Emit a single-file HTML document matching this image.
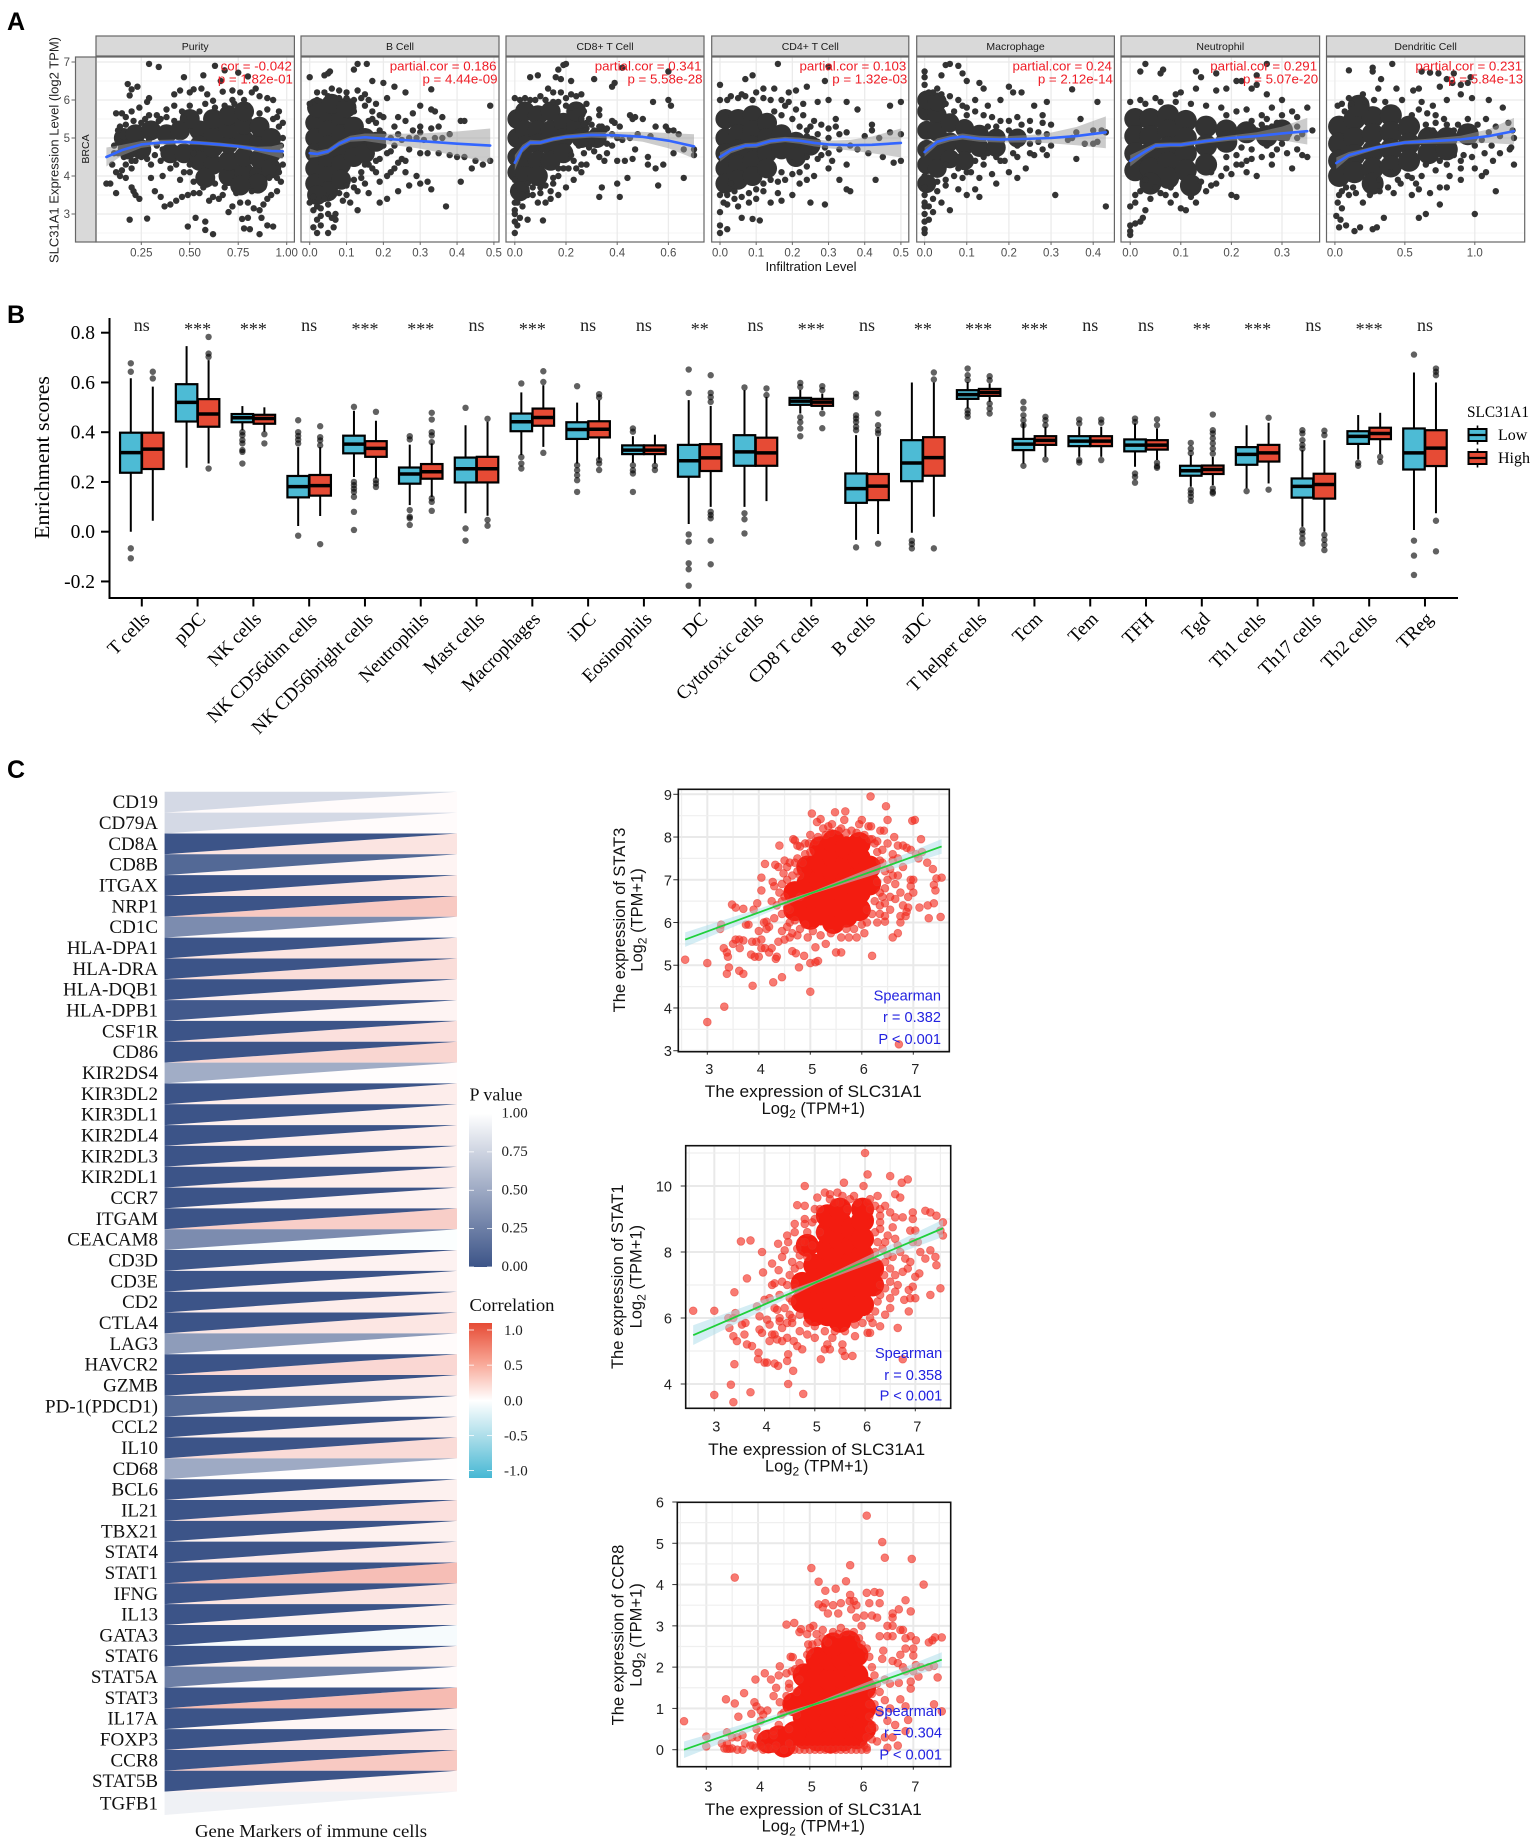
<!DOCTYPE html>
<html lang="en">
<head>
<meta charset="utf-8">
<title>SLC31A1 immune infiltration figure</title>
<style>
html,body{margin:0;padding:0;background:#fff;}
#figure{display:block;width:1535px;height:1843px;}
</style>
</head>
<body>
<svg id="figure" xmlns="http://www.w3.org/2000/svg" width="1535" height="1843" viewBox="0 0 1535 1843">
<defs>
<linearGradient id="p-grad" x1="0" y1="0" x2="0" y2="1"><stop offset="0" stop-color="#ffffff"/><stop offset="1" stop-color="#3C5488"/></linearGradient>
<linearGradient id="cor-grad" x1="0" y1="0" x2="0" y2="1"><stop offset="0" stop-color="#E64B35"/><stop offset="0.25" stop-color="#f8a493"/><stop offset="0.5" stop-color="#ffffff"/><stop offset="0.75" stop-color="#a5dbe8"/><stop offset="1" stop-color="#46b8d4"/></linearGradient>
</defs>
<rect width="1535" height="1843" fill="#fff"/>
<text x="7" y="30" font-family="Liberation Sans, sans-serif" font-weight="700" font-size="25">A</text>
<text x="7" y="323" font-family="Liberation Sans, sans-serif" font-weight="700" font-size="25">B</text>
<text x="7" y="778" font-family="Liberation Sans, sans-serif" font-weight="700" font-size="25">C</text>
<g id="panel-a"></g>
<g id="panel-b"></g>
<g id="panel-c-heat"></g>
<g id="panel-c-scatter"></g>
</svg>
<script>
// ---------- Panel A data ----------
const purityPts=[[.29,6.95],[.34,6.87],[.63,6.9],[.47,6.6],[.57,6.65],[.68,6.78],[.75,6.72],[.8,6.62],[.66,6.5],[.18,6.42],[.2,6.28],[.23,6.35],[.19,6.12],[.28,5.95],[.29,6.05],[.42,6.15],[.45,6.25],[.5,6.2],[.52,6.28],[.56,6.3],[.59,6.15],[.62,5.98],[.67,6.22],[.72,6.25],[.76,6.2],[.82,6.2],[.84,6.3],[.86,6.1],[.9,6.05],[.93,6],[.72,6],[.78,6],[.15,5.65],[.17,5.55],[.2,5.7],[.24,5.8],[.27,5.5],[.33,5.6],[.38,5.75],[.42,5.85],[.46,5.7],[.12,5.65],[.13,5.2],[.11,4.8],[.1,4.3],[.07,3.8],[.09,3.8],[.12,3.55],[.14,4],[.17,3.95],[.2,3.7],[.22,3.5],[.24,3.4],[.21,3.6],[.3,3.95],[.32,3.6],[.35,3.45],[.37,3.2],[.4,3.25],[.43,3.35],[.46,3.45],[.49,3.5],[.52,3.55],[.55,3.55],[.6,3.35],[.62,3.45],[.65,3.4],[.67,3.5],[.7,3.05],[.72,3.2],[.76,3.3],[.8,3.3],[.83,3.15],[.86,3.1],[.88,3.25],[.9,3.4],[.92,3.5],[.95,3.6],[.97,3.85],[.96,4.1],[.98,4.3],[.19,2.85],[.28,2.88],[.49,2.67],[.53,2.9],[.58,2.8],[.58,2.58],[.62,2.47],[.77,2.87],[.8,2.9],[.78,2.62],[.81,2.6],[.86,2.47],[.87,2.9],[.9,2.7],[.93,2.67],[.36,4],[.4,4.2],[.45,3.9],[.5,4.1],[.25,4.5],[.3,4.3],[.35,4.4],[.16,4.5],[.2,4.2],[.98,5],[.98,5.4],[.96,5.7],[.95,5.55]];
const purityFringe=[[.14,5.3],[.14,4.9],[.13,4.6],[.17,5.35],[.21,5.45],[.25,5.4],[.29,5.6],[.34,5.45],[.38,5.55],[.42,5.45],[.47,5.5],[.5,5.85],[.55,5.7],[.58,5.9],[.63,5.8],[.68,5.85],[.73,5.9],[.8,5.85],[.86,5.65],[.9,5.75],[.93,5.5],[.96,5.3],[.97,4.8],[.97,4.55],[.94,4.35],[.95,3.95],[.91,3.95],[.88,3.7],[.82,3.6],[.74,3.55],[.68,3.7],[.63,3.8],[.57,3.7],[.52,3.85],[.47,4.1],[.43,4.3],[.36,4.7],[.32,4.55],[.28,4.45],[.22,4.4],[.2,4.4],[.17,4.3],[.15,4.15],[.12,4.1],[.11,4.6],[.33,4.8],[.35,5.5],[.29,4.95],[.41,4.85],[.5,4.3],[.52,4.6]];
const purityCore=[[.16,5],[.22,5.1],[.3,5.2],[.38,5.1],[.45,5.2],[.25,4.7],[.18,4.7],[.4,4.6],[.47,4.6],[.55,5.2],[.55,4.8],[.55,4.4],[.62,4.3],[.62,4.75],[.62,5.15],[.62,5.5],[.7,4],[.7,4.4],[.7,4.85],[.7,5.25],[.7,5.6],[.78,4.1],[.78,4.5],[.78,4.95],[.78,5.35],[.78,5.7],[.86,4.05],[.86,4.45],[.86,4.9],[.86,5.3],[.92,4.6],[.92,5],[.92,4.2],[.5,5.5],[.58,3.95],[.85,3.8],[.76,3.75]];
const purityFit=[[.07,4.5,.25],[.15,4.68,.14],[.25,4.83,.09],[.35,4.88,.07],[.45,4.9,.06],[.55,4.87,.05],[.65,4.83,.05],[.75,4.78,.05],[.85,4.7,.07],[.92,4.66,.12],[.98,4.65,.2]];
const bCellPts=[[0,6.6],[.04,6.65],[.05,6.7],[.055,6.75],[.13,6.95],[.155,6.95],[.12,6.8],[.17,6.5],[.2,6.45],[.23,6.35],[.33,6.28],[.26,6.2],[.21,6.05],[.16,6],[.3,5.85],[.28,5.65],[.33,5.75],[.34,5.7],[.36,5.55],[.41,5.45],[.42,5.45],[.49,5.85],[.3,5.3],[.33,5.25],[.35,5.3],[.38,5.1],[.24,5.1],[.27,5],[.29,5],[.31,4.95],[.34,5],[.36,5],[.19,5.2],[.2,4.8],[.22,4.65],[.25,4.45],[.3,4.6],[.32,4.6],[.35,4.6],[.38,4.55],[.4,4.5],[.42,4.5],[.45,4.4],[.47,4.3],[.49,4.4],[.44,4.2],[.41,3.85],[.22,4.1],[.24,4.35],[.26,4.1],[.29,4],[.3,3.8],[.32,3.85],[.33,3.65],[.27,3.75],[.24,3.6],[.21,3.4],[.19,3.3],[.16,3.55],[.15,3.8],[.37,3.2],[.13,3.1],[.07,3],[.05,3],[.02,2.85],[.01,2.65],[.03,2.7],[.02,2.5],[.05,2.5],[.065,2.65],[.07,2.85],[.06,2.9],[.03,2.95],[.02,3.2],[0,3.3],[.01,3.1],[.05,3.25],[.1,3.5],[.12,3.9],[.14,4.1],[.16,4.3],[.18,4.4],[.15,5.85],[.12,5.7],[.1,6.2],[.08,6.25],[.06,6.3],[.04,6.2],[.02,6],[0,5.9],[.13,6.25],[.15,6.15],[.17,5.5],[.18,5.4],[.23,5.3]];
const bCellFringe=[[.17,5.7],[.19,5.6],[.16,5.45],[.2,5.1],[.22,5],[.21,4.6],[.19,4.45],[.17,4.2],[.15,4.3],[.14,3.95],[.12,3.7],[.1,3.75],[.08,3.55],[.06,3.45],[.04,3.4],[.01,3.45],[.03,3.15],[.09,3.35],[.11,3.3],[.13,3.6],[.02,6.2],[.05,6.1],[.08,6.05],[.1,6.05],[.12,6],[.14,6.05],[.18,5.9],[.2,5.55],[.25,4.95],[.27,4.7],[.26,4.4],[.23,4.2],[.21,4],[.18,4.1],[.19,3.85],[.24,5.55],[.26,5.45],[.28,5.2],[.3,5.15],[.23,4.8]];
const bCellCore=[[.015,5.4],[.015,5],[.015,4.6],[.015,4.2],[.015,3.8],[.05,5.6],[.05,5.2],[.05,4.8],[.05,4.4],[.05,4],[.05,3.6],[.085,5.5],[.085,5.1],[.085,4.7],[.085,4.3],[.085,3.9],[.12,5.3],[.12,4.9],[.12,4.5],[.15,5],[.15,4.6],[.02,5.8],[.06,5.9],[.1,5.8],[.18,4.9],[.02,3.5]];
const bCellFit=[[0,4.6,.12],[.02,4.58,.08],[.05,4.65,.07],[.08,4.85,.07],[.11,4.98,.08],[.15,5.02,.1],[.2,4.98,.13],[.3,4.92,.2],[.4,4.85,.32],[.49,4.8,.45]];
const cd8Pts=[[.19,6.92],[.2,6.95],[.17,6.8],[.09,6.65],[.06,6.6],[.18,6.55],[.16,6.6],[.22,6.5],[.31,6.55],[.38,6.35],[.39,6.45],[.42,6.85],[.6,6.75],[0,6.05],[.02,6],[.1,6.1],[.13,6.3],[.15,6.2],[.18,6.2],[.2,6.05],[.22,6.15],[.24,6.1],[.26,6.15],[.28,5.9],[.33,5.75],[.33,5.6],[.45,5.6],[.46,5.5],[.47,5.55],[.5,5.5],[.54,5.95],[.6,6],[.61,5.85],[.38,5.45],[.39,5.4],[.34,5.3],[.59,5.3],[.6,5.2],[.55,5.3],[.53,5.05],[.48,5.1],[.45,5],[.42,4.95],[.4,5],[.38,5.1],[.33,5.05],[.3,4.9],[.27,4.6],[.25,4.8],[.23,4.4],[.22,4.55],[.36,4.6],[.4,4.4],[.43,4.4],[.46,4.45],[.52,4.5],[.58,4.3],[.55,4.2],[.52,4.3],[.62,4.6],[.66,4.7],[.7,4.55],[.7,4.7],[.44,3.95],[.4,3.8],[.34,3.7],[.33,3.45],[.41,3.45],[.56,3.75],[.66,3.95],[.26,4.1],[.23,3.9],[.2,3.7],[.17,3.5],[.14,3.4],[.12,3.3],[.1,3.55],[.07,3.5],[.05,3.8],[.03,3.2],[0,3],[0,2.8],[0,2.5],[.01,2.7],[.05,2.85],[.11,2.83],[.02,2.9],[0,3.3],[0,3.6],[0,3.9],[.14,3.6],[.17,4],[.29,5.5],[.27,5.7],[.22,5.8],[.64,5.1],[.62,5.2]];
const cd8Fringe=[[.28,5.4],[.3,5.35],[.31,5.2],[.33,5.3],[.35,5.2],[.36,5.25],[.28,5.25],[.29,4.75],[.31,4.65],[.33,4.5],[.28,4.3],[.26,4.3],[.24,4.2],[.21,4.2],[.19,4.2],[.17,4.2],[.15,3.95],[.12,3.75],[.1,3.7],[.07,3.7],[.05,3.5],[.03,3.5],[.01,3.3],[0,3.1],[.09,3.3],[.15,3.8],[.06,6],[.08,6],[.04,6.05],[.12,6],[.15,5.95],[.17,5.95],[.2,5.85],[.24,5.85],[.27,5.35],[.26,5.5],[.41,5.3],[.36,4.85],[.38,4.8],[.35,4.4],[.47,4.7]];
const cd8Core=[[.01,5.5],[.01,5],[.01,4.5],[.01,4.1],[.04,5.7],[.04,5.2],[.04,4.8],[.04,4.4],[.04,4],[.09,5.6],[.09,5.2],[.09,4.85],[.09,4.4],[.09,4],[.14,5.7],[.14,5.2],[.14,4.8],[.14,4.4],[.19,5.4],[.19,5],[.19,4.6],[.24,5.3],[.24,5.7],[.26,5],[.32,5],[.02,3.6]];
const cd8Fit=[[0,4.35,.2],[.03,4.72,.1],[.06,4.88,.07],[.1,4.88,.06],[.15,4.97,.06],[.2,5.03,.06],[.3,5.08,.07],[.4,5.07,.09],[.5,5.03,.13],[.6,4.93,.2],[.7,4.78,.32]];
const cd4Pts=[[.16,6.95],[.3,6.88],[.29,6.5],[.24,6.35],[.21,6.25],[.19,6.2],[.15,6.3],[.12,6.3],[.1,6.2],[.07,6.1],[.05,6.05],[.02,6],[0,6],[.27,5.95],[.3,6],[.35,5.95],[.5,5.95],[.47,5.85],[.38,5.75],[.42,5.2],[.42,5.35],[.4,5.05],[.44,5],[.47,5.15],[.5,5.1],[.35,5.15],[.33,5.1],[.3,5],[.27,5.1],[.24,5.2],[.22,5.3],[.2,5.5],[.17,5.6],[.15,5.7],[.36,4.8],[.38,4.7],[.41,4.6],[.45,4.5],[.48,4.35],[.5,4.4],[.43,3.9],[.3,4.2],[.35,4.3],[.31,4.4],[.27,4.45],[.24,4.5],[.2,4.35],[.17,4.1],[.14,3.9],[.12,3.6],[.1,3.4],[.08,3.3],[.2,3.5],[.25,3.3],[.17,3.35],[.14,3.3],[.16,3.55],[.29,3.25],[.24,3.9],[.33,3.9],[.35,3.65],[.36,3.6],[.04,3.4],[.02,3.25],[0,3.05],[.06,2.9],[.09,2.87],[.11,2.83],[.02,2.6],[0,2.5],[0,2.7],[.05,3.2],[0,3.5],[.03,3.8],[.26,5.45],[.32,5.5],[.09,6.65],[.07,6.55],[0,6.4]];
const cd4Fringe=[[.21,5.75],[.18,5.85],[.23,5.6],[.25,5.3],[.28,5.35],[.3,5.25],[.32,5.3],[.26,4.65],[.28,4.55],[.3,4.6],[.33,4.7],[.24,4.25],[.22,4.1],[.2,4.05],[.18,3.9],[.16,3.85],[.12,3.8],[.1,3.65],[.08,3.55],[.06,3.45],[.04,3.6],[.02,3.5],[.01,3.3],[.03,6.1],[.06,6.15],[.09,6],[.12,6.05],[.14,6],[.17,6],[.19,5.95],[.23,5.9],[.24,5.05],[.27,4.9],[.29,4.75],[.22,3.8],[.26,4]];
const cd4Core=[[.015,5.5],[.015,5],[.015,4.6],[.015,4.2],[.015,3.8],[.05,5.5],[.05,5.1],[.05,4.7],[.05,4.3],[.05,3.9],[.09,5.6],[.09,5.2],[.09,4.8],[.09,4.4],[.09,4],[.13,5.4],[.13,5],[.13,4.6],[.13,4.2],[.17,5.1],[.17,4.7],[.21,4.9],[.21,4.5],[.25,4.8]];
const cd4Fit=[[0,4.5,.12],[.03,4.68,.08],[.07,4.8,.07],[.1,4.81,.07],[.14,4.92,.07],[.18,4.96,.07],[.22,4.93,.08],[.26,4.87,.09],[.3,4.83,.1],[.36,4.81,.14],[.42,4.82,.22],[.5,4.87,.38]];
const macrophagePts=[[.06,6.95],[.05,6.92],[.08,6.9],[.09,6.7],[.04,6.65],[0,6.75],[0,6.6],[0,6.4],[.02,6.2],[.04,6.15],[.1,6.5],[.13,6.45],[.14,6.3],[.2,6.35],[.21,6.2],[.23,6.2],[.35,6.28],[.41,5.95],[.29,5.95],[.26,5.85],[.18,6],[.15,5.85],[.12,6],[.09,5.85],[.05,5.9],[.28,5.6],[.28,5.4],[.37,5.5],[.3,5.35],[.25,5.45],[.22,5.55],[.2,5.2],[.17,5.3],[.36,5.15],[.4,5.2],[.42,5.2],[.43,5.15],[.41,4.9],[.38,4.85],[.4,4.85],[.35,5],[.34,4.95],[.3,4.8],[.27,4.9],[.25,4.85],[.22,4.8],[.36,4.45],[.29,4.55],[.26,4.55],[.21,4.6],[.18,4.4],[.14,4.3],[.22,3.95],[.2,4.1],[.17,3.8],[.13,3.95],[.12,3.65],[.1,3.5],[.08,3.65],[.05,3.9],[.03,3.6],[.06,3.1],[.02,3.05],[.13,3.45],[.31,3.5],[.43,3.2],[0,2.8],[0,2.6],[0,2.5],[0,3],[0,3.3],[0,3.7],[0,4],[.01,2.85],[.05,4.3],[.08,4.2],[.1,4.1],[.15,4.6],[.12,4.4]];
const macrophageFringe=[[.01,6.2],[.03,6.3],[.06,6.1],[.08,6],[.1,5.8],[.12,5.7],[.14,5.6],[.16,5.55],[.18,5.45],[.2,5.45],[.23,5.35],[.25,5.2],[.27,5.15],[.29,5.1],[.15,5.3],[.1,5.6],[.07,5.7],[.17,4.5],[.14,4.5],[.11,4.1],[.09,3.95],[.07,4],[.05,3.75],[.03,3.85],[.02,3.4],[.01,3.2],[.04,3.3],[.19,4.4],[.22,4.5],[.25,4.6],[.28,4.7],[.24,4.2],[.16,4.05],[0,3.5],[0,3.2]];
const macrophageCore=[[.005,5.7],[.005,5.2],[.005,4.7],[.005,4.3],[.03,5.6],[.03,5.15],[.03,4.65],[.03,4.2],[.06,5.4],[.06,4.9],[.06,4.45],[.095,5.25],[.095,4.8],[.095,4.4],[.13,5.1],[.13,4.75],[.17,5],[.17,4.75],[.22,5],[.005,6],[.005,3.8],[.03,5.95]];
const macrophageFit=[[0,4.63,.12],[.03,4.9,.09],[.06,4.99,.08],[.09,5.04,.08],[.13,4.98,.08],[.18,4.96,.08],[.25,4.98,.1],[.3,5,.14],[.36,5.05,.24],[.43,5.15,.42]];
const neutrophilPts=[[.03,6.95],[.02,6.75],[.065,6.8],[.06,6.7],[.13,6.75],[.14,6.6],[.17,6.7],[.21,6.5],[.22,6.5],[.25,6.65],[.27,6.95],[.25,6.4],[.24,6.3],[.19,6.3],[.17,6.25],[.13,6.3],[.1,6.2],[.09,6.15],[.05,6.05],[.02,6],[0,5.95],[.27,6.15],[.3,6],[.35,5.8],[.32,5.7],[.28,5.8],[.26,5.6],[.24,5.45],[.29,5.4],[.33,5.55],[.34,5.1],[.36,5.2],[.31,5],[.33,5],[.35,4.5],[.34,4.55],[.31,4.6],[.27,4.8],[.29,4.7],[.32,4.2],[.28,4.3],[.24,4.45],[.25,4],[.23,4.1],[.21,4.3],[.21,3.45],[.2,3.5],[.17,3.8],[.15,3.6],[.13,3.3],[.1,3.15],[.08,3.3],[.07,3.5],[.05,3.7],[.03,3.9],[.01,3.5],[0,3.2],[0,2.7],[.01,2.75],[.02,2.8],[.025,2.9],[0,2.55],[0,2.45],[.03,3.1],[.11,3.1],[.16,4.1],[.19,4.5],[.22,4.75]];
const neutrophilFringe=[[.19,5.6],[.21,5.7],[.23,5.75],[.18,5.8],[.15,5.85],[.12,5.9],[.09,5.95],[.06,5.95],[.03,5.9],[.26,5.35],[.28,5.3],[.31,5.35],[.33,5.3],[.24,4.7],[.21,4.55],[.22,4.3],[.19,4.2],[.2,4.05],[.18,4],[.16,3.75],[.14,3.85],[.12,3.45],[.09,3.5],[.08,3.7],[.06,3.55],[.02,3.6],[.04,3.4],[.01,3.3],[.28,4.55],[.3,4.85],[.33,4.7],[.26,4.5],[.23,4.4],[.3,5.6],[.27,5.5],[.25,5.2]];
const neutrophilCore=[[.01,5.5],[.01,5.05],[.01,4.6],[.01,4.15],[.04,5.5],[.04,5.05],[.04,4.6],[.04,4.2],[.075,5.6],[.075,5.2],[.075,4.75],[.075,4.35],[.075,3.95],[.11,5.45],[.11,5],[.11,4.6],[.11,4.15],[.15,5.3],[.15,4.8],[.15,4.3],[.19,5.2],[.19,4.9],[.23,5.15],[.27,5.05],[.3,5.2],[.12,3.75],[.04,3.8]];
const neutrophilFit=[[0,4.4,.15],[.03,4.65,.09],[.05,4.8,.07],[.08,4.82,.06],[.1,4.82,.06],[.15,4.92,.06],[.2,5,.07],[.25,5.05,.1],[.3,5.12,.18],[.35,5.18,.35]];
const dendriticPts=[[.1,6.78],[.27,6.75],[.27,6.85],[.41,6.95],[.33,6.55],[.62,6.75],[.68,6.72],[.74,6.7],[.85,6.7],[.8,6.55],[.84,6.45],[.95,6.45],[.97,6.6],[.9,6.4],[.75,6.35],[.6,6.3],[.56,6.25],[.44,6.3],[.31,6.3],[.2,6.15],[.1,6.05],[.05,5.9],[.02,5.85],[.8,6],[.9,6.15],[.98,6.05],[1.1,6],[1.2,5.8],[1.08,5.5],[1.24,5.4],[1.27,5.2],[1.28,5],[1.26,4.75],[1.28,4.3],[1.25,4.7],[1.13,4.4],[1.07,4.6],[1,4.2],[1.05,4],[1.08,4.1],[1,4.8],[.93,4.95],[.85,5.2],[.78,5.5],[.72,5.6],[.7,5.2],[.65,5.35],[.55,5.6],[1.15,3.6],[1,3],[.75,3.25],[.65,3],[.6,2.9],[.55,3.5],[.47,3.8],[.42,3.55],[.35,2.9],[.3,2.65],[.27,2.6],[.18,2.65],[.14,2.55],[.08,2.7],[.03,2.65],[.04,2.85],[.01,2.95],[.05,3.15],[.02,3.3],[.1,3.5],[.13,3.7],[.2,3.3],[.25,3.5],[.32,3.9],[.4,4.1],[.52,4],[.6,3.65],[.68,3.55],[.75,3.7],[.82,4],[.9,4.2],[.85,4.55],[.75,4.4],[.65,4.3]];
const dendriticFringe=[[.6,5.75],[.66,5.65],[.72,5.4],[.8,5.35],[.88,5.35],[.95,5.5],[1.02,5.35],[1.1,5.15],[1.15,5.3],[1.18,5.05],[1.05,4.95],[1.12,4.8],[1.18,4.6],[.98,4.5],[.92,4.55],[.9,4.4],[.8,4.3],[.72,4.15],[.62,4],[.55,3.95],[.45,3.9],[.38,3.7],[.32,3.6],[.22,3.75],[.15,3.55],[.08,3.7],[.05,3.6],[.03,3.5],[.48,6],[.36,5.95],[.28,6],[.22,5.95],[.12,5.9],[.07,5.7],[.62,5.95],[.7,5.85],[.58,3.8],[.8,3.7],[.9,3.9]];
const dendriticCore=[[.03,5.3],[.03,4.85],[.03,4.4],[.03,4],[.14,5.5],[.14,5],[.14,4.55],[.14,4.1],[.27,5.55],[.27,5.1],[.27,4.65],[.27,4.2],[.27,3.8],[.4,5.6],[.4,5.15],[.4,4.7],[.4,4.25],[.53,5.3],[.53,4.85],[.53,4.4],[.67,5],[.67,4.6],[.8,5],[.8,4.7],[.95,5.1],[.17,5.85]];
const dendriticFit=[[.01,4.34,.15],[.1,4.55,.08],[.2,4.65,.06],[.3,4.75,.05],[.4,4.82,.05],[.5,4.88,.05],[.7,4.92,.07],[.9,4.96,.1],[1.1,5.05,.18],[1.28,5.18,.35]];
const yTicksA=[3,4,5,6,7];
const xTicksPurity=[.25,.5,.75,1];
const xTicksB=[0,.1,.2,.3,.4,.5];
const xTicksCd8=[0,.2,.4,.6];
const xTicksMac=[0,.1,.2,.3,.4];
const xTicksNeu=[0,.1,.2,.3];
const xTicksDen=[0,.5,1];

// ---------- Panel B data: [q1, median, q3, whiskerLow, whiskerHigh] ----------
const cellTypes=["T cells","pDC","NK cells","NK CD56dim cells","NK CD56bright cells","Neutrophils","Mast cells","Macrophages","iDC","Eosinophils","DC","Cytotoxic cells","CD8 T cells","B cells","aDC","T helper cells","Tcm","Tem","TFH","Tgd","Th1 cells","Th17 cells","Th2 cells","TReg"];
const significance=["ns","***","***","ns","***","***","ns","***","ns","ns","**","ns","***","ns","**","***","***","ns","ns","**","***","ns","***","ns"];
const lowBoxes=[[.237,.318,.398,0,.617],[.443,.52,.593,.257,.746],[.44,.458,.473,.408,.505],[.138,.181,.224,.023,.34],[.315,.352,.386,.22,.486],[.193,.232,.258,.107,.35],[.198,.253,.298,.074,.428],[.404,.442,.475,.308,.56],[.373,.411,.44,.274,.519],[.312,.328,.347,.277,.384],[.221,.285,.349,.031,.529],[.265,.321,.388,.1,.569],[.51,.525,.538,.475,.57],[.116,.173,.234,-.033,.388],[.203,.276,.368,-.004,.6],[.534,.551,.569,.495,.602],[.328,.352,.373,.274,.435],[.344,.364,.384,.301,.422],[.323,.348,.371,.261,.435],[.225,.245,.265,.181,.308],[.269,.311,.34,.174,.428],[.137,.182,.214,.02,.328],[.353,.383,.404,.29,.469],[.25,.317,.415,.007,.64]];
const highBoxes=[[.252,.332,.398,.044,.583],[.422,.473,.533,.274,.69],[.434,.455,.47,.402,.5],[.145,.185,.228,.063,.34],[.301,.335,.364,.214,.446],[.213,.241,.272,.14,.355],[.198,.253,.301,.064,.442],[.426,.459,.495,.341,.589],[.379,.412,.444,.29,.529],[.312,.328,.347,.274,.39],[.244,.297,.352,.1,.506],[.265,.317,.378,.123,.542],[.506,.521,.534,.489,.555],[.127,.183,.232,-.009,.381],[.225,.298,.38,.06,.6],[.546,.56,.574,.522,.596],[.349,.367,.384,.301,.422],[.344,.364,.384,.301,.422],[.33,.348,.368,.288,.415],[.232,.25,.266,.187,.301],[.282,.317,.349,.194,.438],[.133,.19,.233,0,.368],[.372,.395,.418,.312,.478],[.264,.336,.408,.074,.6]];
const lowOutliers=[[.677,.643,-.067,-.107],[],[.4,.388,.368,.355,.328,.321,.274],[.448,.4,.385,.37,.355,-.016],[.502,.2,.187,.173,.16,.14,.08,.007],[.384,.371,.087,.06,.054,.027],[.498,.013,-.036],[.596,.3,.274,.254],[.585,.267,.247,.227,.207,.16],[.415,.402,.267,.247,.234,.16],[.652,.558,-.011,-.04,-.127,-.151,-.217],[.58,.074,.05,-.007],[.598,.582,.46,.44,.415,.384],[.555,.541,.468,.455,.441,.422,.408,-.063],[-.036,-.05,-.067],[.656,.629,.61,.488,.475,.462],[.522,.495,.468,.448,.428,.265],[.451,.435,.288,.278],[.455,.441,.234,.22,.197],[.357,.334,.316,.168,.155,.141,.124],[.163],[.408,.395,.368,.348,.334,.007,-.007,-.027,-.047],[.277,.265],[.712,-.036,-.096,-.174]];
const highOutliers=[[.643,.616],[.783,.716,.703,.254],[.392,.355],[.424,.38,.367,.347,-.05],[.482,.207,.194,.18],[.478,.451,.4,.387,.36,.134,.12,.084],[.454,.047,.024],[.645,.602,.317],[.553,.54,.288,.274,.248],[.265,.248],[.629,.558,.541,.522,.08,.067,.054,-.036,-.131],[.576,.549],[.585,.569,.475,.416],[.475,.428,.408,.395,-.048],[.64,.612,-.067],[.625,.609,.515,.495,.475],[.462,.448,.428,.29],[.451,.438,.288],[.452,.428,.277,.263,.257],[.471,.408,.395,.375,.355,.334,.314,.174,.16,.154],[.458,.169],[.406,.388,-.013,-.033,-.053,-.074],[.301,.281],[.656,.643,.629,.044,-.079]];
const yTicksB=[-.2,0,.2,.4,.6,.8];

// ---------- Panel C heatmap data ----------
const geneMarkers=["CD19","CD79A","CD8A","CD8B","ITGAX","NRP1","CD1C","HLA-DPA1","HLA-DRA","HLA-DQB1","HLA-DPB1","CSF1R","CD86","KIR2DS4","KIR3DL2","KIR3DL1","KIR2DL4","KIR2DL3","KIR2DL1","CCR7","ITGAM","CEACAM8","CD3D","CD3E","CD2","CTLA4","LAG3","HAVCR2","GZMB","PD-1(PDCD1)","CCL2","IL10","CD68","BCL6","IL21","TBX21","STAT4","STAT1","IFNG","IL13","GATA3","STAT6","STAT5A","STAT3","IL17A","FOXP3","CCR8","STAT5B","TGFB1"];
const pValues=[.78,.78,0,.12,0,0,.33,0,0,0,.03,0,0,.52,0,0,0,0,0,0,0,.33,.01,0,0,0,.42,0,0,.12,0,0,.5,0,0,0,0,0,0,0,0,0,.25,0,0,0,0,0,.92];
const correlations=[.02,.02,.15,.06,.14,.3,.02,.15,.19,.1,.06,.17,.23,.01,.1,.09,.1,.09,.1,.07,.27,-.02,.07,.07,.1,.14,.02,.22,.11,.04,.09,.2,.01,.08,.17,.08,.12,.36,.15,.08,-.05,.08,.02,.38,.05,.16,.3,.07,0];
const pLegendTicks=[1,.75,.5,.25,0];
const corLegendTicks=[1,.5,0,-.5,-1];

// ---------- Panel C scatter data ----------
const stat3Pts=[[2.57,5.13],[3,5.05],[3,3.67],[3.33,4.03],[3.38,4.8],[3.42,4.95],[3.32,5.4],[3.38,5.3],[3.4,5.2],[3.25,5.85],[3.27,5.95],[3.48,6.42],[3.55,6.35],[3.7,6.32],[3.5,5.5],[3.55,5.6],[3.62,5.6],[3.63,5.4],[3.7,5.58],[3.62,4.87],[3.7,4.8],[3.75,5.95],[3.8,5.95],[3.87,5.55],[3.85,5.25],[3.92,5.2],[4,5.2],[3.88,4.52],[3.9,6.3],[3.97,6.45],[3.95,5.55],[4,5.8],[4.05,5.6],[4.05,5.4],[4.12,5.4],[4.2,5.3],[4.25,5.4],[4.28,4.6],[4.33,5.15],[4.45,4.72],[4.35,5.2],[4.38,5.55],[4.1,6],[4.15,6.02],[4.15,5.85],[4.2,5.9],[4.05,6.75],[4.05,7.05],[4.12,7.37],[4.32,7.35],[4.38,7.3],[4.4,7.8],[4.27,6.95],[4.3,6.85],[4.25,6.5],[4.45,6.9],[4.48,7.15],[4.55,7.3],[4.6,7.4],[4.67,7.95],[4.7,7.92],[4.75,7.8],[4.8,7.78],[4.7,7.4],[4.75,7.2],[4.9,7.85],[4.97,7.85],[5.03,8.55],[5.13,8.35],[5.2,8.42],[5.35,8.25],[5.42,8.3],[5.48,8.58],[5.68,8.6],[5.66,8.4],[5.6,8.2],[5.95,8.3],[6,8.4],[6.13,8.25],[6.17,8.95],[6.18,8.25],[6.36,8.15],[6.43,8.15],[6.47,8.72],[6.5,8.4],[6.63,8],[6.5,7.85],[6.7,7.8],[6.8,7.8],[6.87,7.75],[6.95,7.7],[6.98,8.38],[7.03,8.4],[7.15,7.95],[7.05,7.6],[7.17,7.65],[7.1,7.5],[7.27,7.4],[7.38,7.25],[7.45,7.03],[7.55,7.05],[7.4,6.88],[7.43,6.75],[7.4,6.45],[7.28,6.4],[7.3,6.1],[7.53,6.13],[7.12,6.35],[6.85,6.15],[6.8,6.4],[6.9,6.35],[6.87,6.25],[6.75,6],[6.75,6.15],[6.6,5.65],[6.7,5.75],[6.45,6.02],[6.3,6],[6.2,5.22],[6.05,5.75],[5.9,5.65],[5.75,5.65],[5.6,5.3],[5.5,5.3],[5.3,5.5],[5.15,5.1],[5.1,5.07],[5.1,5.42],[5,5.05],[5,4.38],[4.78,4.95],[4.88,5.22],[4.65,5.33],[4.72,5.28],[4.5,5.6],[4.6,5.65],[4.75,5.7],[4.95,5.65],[6.95,7],[7,7],[7,6.7],[6.9,6.6],[6.95,6.85],[6.65,6.9],[6.7,7.1],[6.55,7.25],[6.6,7.45],[6.4,7.7],[6.35,7.45],[6.4,6.6],[6.25,6.5],[6.35,6.2],[6.1,6],[5.7,5.85],[4.45,6.2],[4.6,6.3],[4.8,6.6],[4.45,6.5],[6.72,3.15]];
const stat3Fringe=[[4.5,6.6],[4.55,6.35],[4.6,6],[4.65,5.75],[4.55,7],[4.65,7.1],[4.85,7.4],[4.8,7.1],[4.9,7.6],[5,7.65],[5.1,7.9],[5.15,8],[5.3,8.05],[5.4,8.1],[5.55,8.15],[5.7,8.1],[5.8,8.15],[5.9,8.1],[6.05,8.05],[6.15,7.95],[6.25,7.85],[6.3,7.65],[6.4,7.4],[6.45,7.2],[6.5,7],[6.45,6.8],[6.55,6.6],[6.45,6.45],[6.35,6.4],[6.35,6.7],[6.3,6.95],[6.1,6.3],[6.2,6.2],[6,5.95],[5.85,5.85],[5.6,5.65],[5.4,5.75],[5.2,5.7],[5.05,5.8],[4.9,5.95],[4.8,5.85],[4.7,6.05],[4.4,6.7],[4.35,6.4],[4.3,6.1],[4.45,5.8],[6.6,7.6],[6.7,7.5],[6.8,7.3],[6.6,7.1],[6.75,6.7],[6.65,6.55],[6.55,6.3],[6.45,6.15],[6.2,7.95],[6.3,7.9],[4.55,5.9],[4.5,7.45],[4.75,7.5],[5,8.05],[5.25,8.2]];
const stat3Core=[[4.7,6.7],[4.95,6.5],[4.95,6.9],[4.95,7.3],[5.2,6.2],[5.2,6.6],[5.2,7],[5.2,7.4],[5.2,7.75],[5.45,6],[5.45,6.4],[5.45,6.8],[5.45,7.2],[5.45,7.55],[5.45,7.9],[5.7,6.15],[5.7,6.55],[5.7,6.95],[5.7,7.35],[5.7,7.75],[5.95,6.3],[5.95,6.7],[5.95,7.1],[5.95,7.5],[6.15,6.9],[6.15,7.3],[5,6.1],[4.7,6.3],[5.95,7.85]];
const stat3FitX=[2.57,5.05,7.55];
const stat3FitY=[5.6,6.7,7.78];
const stat3FitSe=[.17,.03,.17];
const stat1Pts=[[2.58,6.22],[3,6.22],[3,3.67],[3.33,3.98],[3.38,3.45],[3.72,3.75],[3.4,4.6],[3.4,6.78],[3.28,6],[3.38,6],[3.42,6.15],[3.3,5.7],[3.38,5.45],[3.55,5.8],[3.62,5.85],[3.45,5.3],[3.6,5.5],[3.65,5.2],[3.75,5.15],[3.88,4.95],[3.87,4.75],[4,4.65],[4.05,4.65],[4.2,4.62],[4.27,4.55],[4.47,4],[4.45,4.7],[4.47,4.9],[4.57,4.4],[4.77,3.7],[4.75,5.05],[4.65,5.15],[4.58,5.3],[4.45,5.4],[4.35,5.3],[4.25,5.35],[4.2,5.5],[3.53,8.32],[3.72,8.35],[3.95,8],[3.97,7.38],[3.65,7.2],[3.85,6.35],[4,6.55],[4.1,6.6],[4.15,7],[4.2,7.05],[4.15,7.65],[4.28,7.45],[4.27,8.25],[4.35,7.85],[4.4,8.05],[4.45,8.5],[4.47,8.3],[4.6,8.85],[4.6,8.6],[4.72,8.3],[4.8,8.85],[4.65,9.42],[4.8,9.4],[4.8,9],[4.8,10],[5.05,9.65],[5.2,9.8],[5.3,9.75],[5.45,9.8],[5.58,10.1],[5.78,9.7],[5.97,10],[6,11],[6.05,10.35],[6.1,9.6],[6.25,9.7],[6.5,10.3],[6.85,10.2],[6.73,10.1],[6.6,9.75],[6.7,9.65],[6.4,9.4],[6.5,9.2],[6.6,9.05],[6.75,9.05],[6.95,9.2],[6.95,9],[7.2,9.25],[7.3,9.2],[7.42,9.1],[7.55,8.9],[7.5,8.65],[7.55,8.5],[7,8.65],[6.9,8.65],[6.95,8.3],[7.05,8.3],[7.1,8],[7.2,7.8],[7.3,8.05],[7.4,7.85],[7.42,7.6],[7.5,6.9],[7.3,6.7],[7.08,7.35],[7,7.25],[6.9,7.7],[6.85,7.5],[6.95,6.95],[6.87,6.85],[6.9,6.6],[7,6.6],[6.87,6.2],[6.78,6.55],[6.65,5.7],[6.65,7],[6.5,7.1],[6.6,7.3],[6.75,7.4],[6.55,7.85],[6.65,8.2],[6.4,8.3],[6.3,8.7],[6.55,8.75],[6.3,6.7],[6.5,6.6],[6.3,5.75],[6.15,5.85],[6.1,5.55],[6.05,5.55],[5.8,5.45],[5.75,4.85],[5.6,4.85],[5.55,5],[5.55,5.2],[5.35,5.4],[5.25,5.2],[5.2,5.05],[5.12,4.75],[5,5.4],[4.85,5.5],[4.7,5.6],[4.55,5.85],[3.9,5.65],[3.95,5.55],[4.05,5.95],[3.9,6.05],[4.3,6],[4.45,5.85],[4.25,6.25],[4.5,6.6],[4.5,7.3],[4.6,7.05],[4.55,7.7],[4.7,7.6],[4.85,7.85],[4.95,8.2],[5,9],[5.1,8.6],[5.5,9.5],[5.65,9.3],[6.1,9.3],[6.3,9.1],[6.38,7.3],[6.4,6.9],[6.75,4.75]];
const stat1Fringe=[[4.5,6.1],[4.55,6.5],[4.6,6.9],[4.45,7],[4.35,7.1],[4.3,6.7],[4.2,6.3],[4.4,6.3],[4.6,7.5],[4.7,7.9],[4.65,8.1],[4.8,8.3],[4.85,8.6],[4.95,8.9],[5,9.3],[5.1,9.3],[5.3,9.6],[5.4,9.5],[5.55,9.7],[5.7,9.6],[5.85,9.5],[6.05,9.5],[6.2,9.4],[6.3,9.3],[6.3,8.9],[6.2,8.6],[6.25,8.3],[6.35,8.1],[6.45,7.9],[6.5,7.5],[6.4,7.7],[6.2,8],[6.3,7],[6.25,6.5],[6.2,6.2],[6.1,6],[5.95,5.85],[5.8,5.8],[5.6,5.6],[5.4,5.6],[5.2,5.6],[5,5.75],[4.85,5.85],[4.7,6.1],[4.55,6],[4.35,5.7],[4.3,5.9],[4.1,5.8],[4.1,5.3],[4.15,5.5],[5.3,5.05],[6.45,8.5],[6.6,8.4],[6.7,8],[6.8,7.8],[6.6,6.8],[6.5,6.3],[6.4,6.1]];
const stat1Core=[[4.75,7.05],[4.75,6.5],[5,6.1],[5,6.6],[5,7.1],[5,7.6],[5.25,6.1],[5.25,6.6],[5.25,7.1],[5.25,7.6],[5.25,8.1],[5.25,8.6],[5.25,9.1],[5.5,5.9],[5.5,6.4],[5.5,6.9],[5.5,7.4],[5.5,7.9],[5.5,8.4],[5.5,8.9],[5.75,6.2],[5.75,6.7],[5.75,7.2],[5.75,7.7],[5.75,8.2],[5.75,8.7],[5.95,6.4],[5.95,6.9],[5.95,7.4],[5.95,7.9],[5.95,8.4],[5.95,8.95],[6.15,7],[6.15,7.5],[5.95,9.3],[5.5,9.3],[4.85,8.2]];
const stat1FitX=[2.58,5.05,7.55];
const stat1FitY=[5.48,7.1,8.72];
const stat1FitSe=[.3,.05,.26];
const ccr8Pts=[[2.57,.69],[3,.32],[3,.08],[3.3,.15],[3.35,.03],[3.4,.02],[3.45,.02],[3.5,.03],[3.6,0],[3.38,1.22],[3.4,.42],[3.55,1.12],[3.55,4.17],[3.62,.8],[3.73,1.37],[3.7,.35],[3.6,.3],[3.4,.15],[3.5,.3],[3.87,.87],[3.93,1.15],[3.97,1.05],[3.95,1.7],[3.97,.5],[3.85,.1],[3.95,.05],[4.05,.95],[4.05,.7],[4.1,.85],[4.12,.35],[4.13,1.85],[4.18,.95],[4.25,1.7],[4.3,.35],[4.3,1.3],[4.35,1.5],[4.4,1.8],[4.42,2.02],[4.42,1.15],[4.45,.85],[4.55,1.85],[4.55,3.03],[4.6,1.6],[4.63,2.25],[4.67,2.24],[4.7,3.07],[4.72,1.95],[4.75,.85],[4.8,2.85],[4.83,2.92],[4.95,2.8],[4.97,2.55],[5,2.95],[5.03,4.4],[5.07,3],[5.13,2.8],[5.17,4.07],[5.17,3.52],[5.25,3.45],[5.3,3.85],[5.3,3.55],[5.35,3.3],[5.5,3.9],[5.45,3.5],[5.55,3.3],[5.6,3.55],[5.7,4.08],[5.78,4.47],[5.78,3.75],[5.77,3.6],[5.85,3.6],[5.8,3.4],[5.9,3.5],[5.9,3.2],[6,3],[6.05,3.25],[6.1,5.67],[6.1,3.8],[6.15,3.55],[6.25,3.82],[6.35,3.8],[6.35,3.55],[6.2,3.25],[6.3,3.2],[6.35,2.75],[6.4,5.03],[6.45,4.65],[6.42,2.4],[6.5,3],[6.5,2.75],[6.6,3.3],[6.6,3.2],[6.6,3],[6.6,2.75],[6.72,3.4],[6.85,3.62],[6.95,3.35],[6.97,4.62],[7.2,4],[6.8,2.9],[6.75,2.9],[6.85,2.7],[6.95,2.75],[6.85,2.45],[6.75,2.3],[7,2.45],[7.05,2.65],[7,2.28],[7.05,2.05],[6.6,2.15],[6.7,2.1],[6.8,2],[6.85,1.9],[6.95,1.65],[7.1,1.77],[6.95,1.48],[7.3,2.6],[7.37,2.65],[7.42,2.72],[7.55,2.72],[7.4,2.03],[7.47,1.75],[7.4,1.1],[7.55,.93],[7.15,2],[7.3,2],[7,1.9],[6.72,1.62],[6.75,1.22],[6.85,1.05],[6.9,.72],[6.85,.45],[6.65,.6],[6.5,.7],[6.45,1.2],[6.55,1],[6.25,.53],[6.45,.3],[6.2,.25],[6.5,.05],[6.1,.05],[6.15,1.1],[6.05,.1],[4.1,0],[4.3,.02],[4.5,0],[4.7,0],[4.9,0],[5.1,0],[5.3,0],[5.5,0],[5.7,0],[5.9,0]];
const ccr8Fringe=[[4.2,.05],[4.4,.6],[4.5,.9],[4.6,.5],[4.55,1.3],[4.6,1.5],[4.65,1.9],[4.75,1.4],[4.8,1.7],[4.8,2.1],[4.95,2.3],[5.05,2.55],[5,2.4],[5.15,2.6],[5.25,2.7],[5.35,2.6],[5.25,2.9],[5.45,2.85],[5.55,2.8],[5.6,2.95],[5.7,2.85],[5.85,2.85],[5.95,2.7],[6,2.55],[6.1,2.45],[6.15,2.25],[6.2,2],[6.25,1.8],[6.3,1.6],[6.2,1.35],[6.25,1.1],[6.15,.8],[6.15,.5],[6.1,.3],[6.2,.6],[6.35,1.4],[6.45,1.7],[6.4,2.2],[6.55,1.6],[6.35,.9],[6.3,.2],[6.6,.3],[6.7,.1],[4.3,.45],[4,.3],[4.35,.1],[4.6,.15],[4.8,0],[5,0],[5.2,0],[5.4,0],[5.6,0],[5.8,0],[6,0],[6.1,0],[4.05,.1],[3.9,.1],[3.75,.15],[3.7,0]];
const ccr8Core=[[4.9,.3],[4.9,.8],[4.9,1.3],[4.9,1.8],[4.7,.4],[4.7,1.1],[5.15,.25],[5.15,.75],[5.15,1.25],[5.15,1.75],[5.15,2.2],[5.4,.2],[5.4,.7],[5.4,1.2],[5.4,1.7],[5.4,2.2],[5.65,.25],[5.65,.75],[5.65,1.25],[5.65,1.75],[5.65,2.2],[5.9,.3],[5.9,.8],[5.9,1.3],[5.9,1.8],[5.9,2.3],[4.4,.3],[6.05,1.5],[6.05,1],[6.05,.5],[5.45,2.55],[5.75,2.6],[4.5,.1],[4.2,.2]];
const ccr8FitX=[2.57,5.05,7.55];
const ccr8FitY=[0,1.08,2.18];
const ccr8FitSe=[.2,.03,.18];
const xTicksExpr=[3,4,5,6,7];
const yTicksStat3=[3,4,5,6,7,8,9];
const yTicksStat1=[4,6,8,10];
const yTicksCcr8=[0,1,2,3,4,5,6];

// ---------- drawing helpers ----------
const SVGNS='http://www.w3.org/2000/svg';
const SERIF='"Liberation Serif", "Times New Roman", serif';
const SANS='"Liberation Sans", Arial, sans-serif';
function mk(tag,attrs,parent){
  const el=document.createElementNS(SVGNS,tag);
  for(const k in attrs){el.setAttribute(k,attrs[k]);}
  parent.appendChild(el);
  return el;
}
function txt(str,x,y,o,parent){
  const a={x:x,y:y,'font-family':o.family||SANS,'font-size':o.size,fill:o.fill||'#000','text-anchor':o.anchor||'start'};
  if(o.len){a.textLength=o.len;a.lengthAdjust='spacingAndGlyphs';}
  if(o.rot!==undefined){a.transform='rotate('+o.rot+' '+x+' '+y+')';}
  const el=mk('text',a,parent);
  el.textContent=str;
  return el;
}
function linear(v0,p0,v1,p1){return function(v){return p0+(v-v0)*(p1-p0)/(v1-v0);};}
function linePath(pts){return pts.map(function(p,i){return (i?'L':'M')+p[0].toFixed(2)+' '+p[1].toFixed(2);}).join(' ');}

// ---------- Panel A ----------
(function(){
  const root=document.getElementById('panel-a');
  const top=57,bottom=242;
  const yA=linear(5,138,6,100);
  const panels=[
    {title:'Purity',l:96,r:294.4,x:linear(.25,141.3,1,286.7),ticks:xTicksPurity,dec:2,pts:purityPts.concat(purityFringe),core:purityCore,coreR:10,fit:purityFit,corText:'cor = -0.042',pText:'p = 1.82e-01'},
    {title:'B Cell',l:301,r:499,x:linear(0,309.7,.5,493.9),ticks:xTicksB,dec:1,pts:bCellPts.concat(bCellFringe),core:bCellCore,coreR:10,fit:bCellFit,corText:'partial.cor = 0.186',pText:'p = 4.44e-09'},
    {title:'CD8+ T Cell',l:506,r:704,x:linear(0,514.8,.6,668.4),ticks:xTicksCd8,dec:1,pts:cd8Pts.concat(cd8Fringe),core:cd8Core,coreR:10,fit:cd8Fit,corText:'partial.cor = 0.341',pText:'p = 5.58e-28'},
    {title:'CD4+ T Cell',l:711.7,r:908.8,x:linear(0,720,.5,900.9),ticks:xTicksB,dec:1,pts:cd4Pts.concat(cd4Fringe),core:cd4Core,coreR:10,fit:cd4Fit,corText:'partial.cor = 0.103',pText:'p = 1.32e-03'},
    {title:'Macrophage',l:916.7,r:1114.4,x:linear(0,924.6,.4,1093.2),ticks:xTicksMac,dec:1,pts:macrophagePts.concat(macrophageFringe),core:macrophageCore,coreR:9.5,fit:macrophageFit,corText:'partial.cor = 0.24',pText:'p = 2.12e-14'},
    {title:'Neutrophil',l:1121,r:1319.6,x:linear(0,1130.2,.3,1282),ticks:xTicksNeu,dec:1,pts:neutrophilPts.concat(neutrophilFringe),core:neutrophilCore,coreR:11,fit:neutrophilFit,corText:'partial.cor = 0.291',pText:'p = 5.07e-20'},
    {title:'Dendritic Cell',l:1326.5,r:1524.7,x:linear(0,1334.9,1,1474.8),ticks:xTicksDen,dec:1,pts:dendriticPts.concat(dendriticFringe),core:dendriticCore,coreR:11,fit:dendriticFit,corText:'partial.cor = 0.231',pText:'p = 5.84e-13'}
  ];
  const brcaStrip=mk('rect',{x:75.5,y:top,width:20.5,height:bottom-top,fill:'#d9d9d9',stroke:'#666','stroke-width':1.2},root);
  
  
  const brca=txt('BRCA',89,149,{size:10.5,fill:'#1a1a1a',rot:-90,anchor:'middle'},root);
  
  
  yTicksA.forEach(function(v){
    const lab=txt(String(v),70,yA(v)+4,{size:11.5,fill:'#4d4d4d',anchor:'end'},root);
    
    
    const t=mk('line',{x1:71.5,x2:75.5,y1:yA(v),y2:yA(v),stroke:'#666','stroke-width':1},root);
    
    
  });
  const yTitle=txt('SLC31A1 Expression Level (log2 TPM)',58.5,150,{size:13,fill:'#222',rot:-90,anchor:'middle',len:226},root);
  
  
  const xTitle=txt('Infiltration Level',811,271,{size:13,fill:'#111',anchor:'middle',len:91},root);
  
  

  panels.forEach(function(p){
    const g=mk('g',{},root);
    
    
    const strip=mk('rect',{x:p.l,y:36,width:p.r-p.l,height:20,fill:'#d9d9d9',stroke:'#666','stroke-width':1.2},g);
    
    
    const st=txt(p.title,(p.l+p.r)/2,50,{size:10.5,fill:'#1a1a1a',anchor:'middle'},g);
    
    
    [2.5,3.5,4.5,5.5,6.5].forEach(function(v){mk('line',{x1:p.l,x2:p.r,y1:yA(v),y2:yA(v),stroke:'#f2f2f2','stroke-width':.8},g);});
    yTicksA.forEach(function(v){mk('line',{x1:p.l,x2:p.r,y1:yA(v),y2:yA(v),stroke:'#ebebeb','stroke-width':1.3},g);});
    p.ticks.forEach(function(v){
      mk('line',{x1:p.x(v),x2:p.x(v),y1:top,y2:bottom,stroke:'#ebebeb','stroke-width':1.3},g);
      const tk=mk('line',{x1:p.x(v),x2:p.x(v),y1:bottom,y2:bottom+3,stroke:'#666','stroke-width':1},g);
      
      
      const lab=txt(v.toFixed(p.dec),p.x(v),256.5,{size:11.5,fill:'#4d4d4d',anchor:'middle'},g);
      
      
    });
    p.core.forEach(function(c){
      const dot=mk('circle',{cx:p.x(c[0]),cy:yA(c[1]),r:p.coreR,fill:'#333'},g);
      
      
    });
    p.pts.forEach(function(c){
      const dot=mk('circle',{cx:p.x(c[0]),cy:yA(c[1]),r:3.2,fill:'#333'},g);
      
      
    });
    const up=p.fit.map(function(f){return [p.x(f[0]),yA(f[1]+f[2])];});
    const dn=p.fit.map(function(f){return [p.x(f[0]),yA(f[1]-f[2])];}).reverse();
    const rib=mk('path',{d:linePath(up.concat(dn))+' Z',fill:'#999','fill-opacity':.5},g);
    
    
    const fit=mk('path',{d:linePath(p.fit.map(function(f){return [p.x(f[0]),yA(f[1])];})),fill:'none',stroke:'#3366FF','stroke-width':2.6,'stroke-linejoin':'round','stroke-linecap':'round'},g);
    
    
    const frame=mk('rect',{x:p.l,y:top,width:p.r-p.l,height:bottom-top,fill:'none',stroke:'#666','stroke-width':1.2},g);
    
    
    const c1=txt(p.corText,p.r-2.5,70.7,{size:13.3,fill:'#ee1c25',anchor:'end'},g);
    
    
    const c2=txt(p.pText,p.r-1.5,83.3,{size:13.3,fill:'#ee1c25',anchor:'end'},g);
    
    
  });
})();

// ---------- Panel B ----------
(function(){
  const root=document.getElementById('panel-b');
  const y=linear(0,531.7,.8,332.7);
  const x=function(i){return 141.8+i*55.79;};
  const LOW='#4DBBD5',HIGH='#E64B35',boxW=21.5,off=11;
  const yAxis=mk('line',{x1:109.5,x2:109.5,y1:318,y2:599,stroke:'#000','stroke-width':2},root);
  
  
  const xAxis=mk('line',{x1:108.5,x2:1458,y1:598,y2:598,stroke:'#000','stroke-width':2},root);
  
  
  yTicksB.forEach(function(v){
    const t=mk('line',{x1:101,x2:109,y1:y(v),y2:y(v),stroke:'#000','stroke-width':2},root);
    
    
    const lab=txt(v.toFixed(1),95,y(v)+6.5,{size:19.5,family:SERIF,anchor:'end'},root);
    
    
  });
  const yTitle=txt('Enrichment scores',49,457.5,{size:21,family:SERIF,anchor:'middle',rot:-90,len:163},root);
  
  
  function drawBox(cx,b,out,color,name,g){
    const wh=mk('line',{x1:cx,x2:cx,y1:y(b[3]),y2:y(b[4]),stroke:'#000','stroke-width':2},g);
    
    
    out.forEach(function(v){
      const d=mk('circle',{cx:cx,cy:y(v),r:3.2,fill:'#000','fill-opacity':.62},g);
      
      
    });
    const rc=mk('rect',{x:cx-boxW/2,y:y(b[2]),width:boxW,height:y(b[0])-y(b[2]),fill:color,stroke:'#000','stroke-width':2.2},g);
    
    
    const md=mk('line',{x1:cx-boxW/2,x2:cx+boxW/2,y1:y(b[1]),y2:y(b[1]),stroke:'#000','stroke-width':3.5},g);
    
    
  }
  cellTypes.forEach(function(name,i){
    const g=mk('g',{},root);
    
    
    const tk=mk('line',{x1:x(i),x2:x(i),y1:598,y2:606.5,stroke:'#000','stroke-width':2},g);
    
    
    drawBox(x(i)-off,lowBoxes[i],lowOutliers[i],LOW,'low',g);
    drawBox(x(i)+off,highBoxes[i],highOutliers[i],HIGH,'high',g);
    const isNs=significance[i]==='ns';
    const s=txt(significance[i],x(i),isNs?331:335,{size:18,family:SERIF,anchor:'middle',fill:'#222'},g);
    
    
    const lab=txt(name,x(i)+9,620,{size:19,family:SERIF,anchor:'end',rot:-45},g);
    
    
  });
  const lt=txt('SLC31A1',1467,417,{size:16,family:SERIF,len:62},root);
  
  
  const entries=[['Low',LOW,425.5,444.5,429,441,435,440],['High',HIGH,448.5,467.5,452,464,458,463]];
  entries.forEach(function(e){
    const wl=mk('line',{x1:1477.5,x2:1477.5,y1:e[2],y2:e[3],stroke:'#000','stroke-width':1.6},root);
    
    
    const key=mk('rect',{x:1468.5,y:e[4],width:18,height:e[5]-e[4],fill:e[1],stroke:'#000','stroke-width':2},root);
    
    
    const md=mk('line',{x1:1468.5,x2:1486.5,y1:e[6],y2:e[6],stroke:'#000','stroke-width':2.2},root);
    
    
    const t=txt(e[0],1498,e[7],{size:16,family:SERIF},root);
    
    
  });
})();

// ---------- Panel C heatmap ----------
(function(){
  const root=document.getElementById('panel-c-heat');
  const L=164.6,R=457,top=791.8,rowH=20.83,lastBottom=1815;
  function mix(a,b,t){return 'rgb('+a.map(function(c,i){return Math.round(c+(b[i]-c)*t);}).join(',')+')';}
  const WHITE=[255,255,255],NAVY=[60,84,136],RED=[230,75,53],TEAL=[70,184,212];
  function pColor(v){return mix(NAVY,WHITE,v);}
  function corColor(v){return v>=0?mix(WHITE,RED,v):mix(WHITE,TEAL,-v);}
  geneMarkers.forEach(function(name,i){
    const y0=top+i*rowH,y1=(i===geneMarkers.length-1)?lastBottom:y0+rowH;
    const lab=txt(name,158,(y0+y1)/2+6,{size:19,family:SERIF,anchor:'end',fill:'#111'},root);
    
    
    const cr=mk('polygon',{points:R+','+y0+' '+R+','+y1+' '+L+','+y1,fill:corColor(correlations[i])},root);
    
    
    const pv=mk('polygon',{points:L+','+y0+' '+R+','+y0+' '+L+','+y1,fill:pColor(pValues[i])},root);
    
    
  });
  const xt=txt('Gene Markers of immune cells',311,1837,{size:18,family:SERIF,anchor:'middle',len:232,fill:'#111'},root);
  
  
  const pt=txt('P value',469.5,1100.5,{size:18,family:SERIF,fill:'#111'},root);
  
  
  const pb=mk('rect',{x:469,y:1113.5,width:23,height:153.5,fill:'url(#p-grad)'},root);
  
  
  const yP=linear(1,1113.5,0,1267);
  pLegendTicks.forEach(function(v){
    [[469,474],[487,492]].forEach(function(s){
      const t=mk('line',{x1:s[0],x2:s[1],y1:yP(v),y2:yP(v),stroke:'#fff','stroke-width':.8},root);
      
      
    });
    const l=txt(v.toFixed(2),501.5,yP(v)+4,{size:15,family:SERIF,fill:'#222'},root);
    
    
  });
  const ct=txt('Correlation',469.5,1311,{size:18,family:SERIF,fill:'#111',len:85},root);
  
  
  const cb=mk('rect',{x:469,y:1323,width:23,height:155,fill:'url(#cor-grad)'},root);
  
  
  const yC=linear(1,1330,-1,1470.6);
  corLegendTicks.forEach(function(v){
    [[469,474],[487,492]].forEach(function(s){
      const t=mk('line',{x1:s[0],x2:s[1],y1:yC(v),y2:yC(v),stroke:'#fff','stroke-width':.8},root);
      
      
    });
    const l=txt(v.toFixed(1),504,yC(v)+5,{size:15,family:SERIF,fill:'#222'},root);
    
    
  });
})();

// ---------- Panel C scatter ----------
(function(){
  const root=document.getElementById('panel-c-scatter');
  const plots=[
    {gene:'STAT3',l:678.3,r:949.3,t:789.3,b:1051.7,x:linear(3,707.3,7,913.3),y:linear(3,1050.7,9,794.3),yTicks:yTicksStat3,pts:stat3Pts.concat(stat3Fringe),core:stat3Core,coreR:11.5,fx:stat3FitX,fy:stat3FitY,fs:stat3FitSe,r2:'r = 0.382',tickRight:672,tickBase:1074,tx:813.3,t1:1097,t2:1114,yt1:625,yt2:642.7,ytc:920,ar:941,a:[1000.7,1022,1044]},
    {gene:'STAT1',l:685.7,r:950.7,t:1145.7,b:1408.3,x:linear(3,714.3,7,915.3),y:linear(4,1384,10,1186),yTicks:yTicksStat1,pts:stat1Pts.concat(stat1Fringe),core:stat1Core,coreR:11.5,fx:stat1FitX,fy:stat1FitY,fs:stat1FitSe,r2:'r = 0.358',tickRight:672,tickBase:1431.7,tx:816.7,t1:1455,t2:1471.7,yt1:623,yt2:641.7,ytc:1276.7,ar:942.3,a:[1358,1380,1400.7]},
    {gene:'CCR8',l:677.3,r:950.7,t:1502.3,b:1766.7,x:linear(3,706.3,7,913.3),y:linear(0,1749.7,6,1502),yTicks:yTicksCcr8,pts:ccr8Pts.concat(ccr8Fringe),core:ccr8Core,coreR:12,fx:ccr8FitX,fy:ccr8FitY,fs:ccr8FitSe,r2:'r = 0.304',tickRight:664,tickBase:1791.7,tx:813.3,t1:1815,t2:1831.7,yt1:623.3,yt2:641.7,ytc:1635,ar:942,a:[1716,1737.3,1759.3]}
  ];
  function logLabel(x,y,rot,parent){
    const a={x:x,y:y,'font-family':SANS,'font-size':16.5,fill:'#111','text-anchor':'middle'};
    if(rot){a.transform='rotate(-90 '+x+' '+y+')';}
    const el=mk('text',a,parent);
    el.appendChild(document.createTextNode('Log'));
    const sub=mk('tspan',{'font-size':12,dy:4},el);
    sub.textContent='2';
    const rest=mk('tspan',{dy:-4},el);
    rest.textContent=' (TPM+1)';
    return el;
  }
  plots.forEach(function(p){
    const g=mk('g',{},root);
    
    
    const clipId='clip-'+p.gene;
    const cp=mk('clipPath',{id:clipId},g);
    mk('rect',{x:p.l,y:p.t,width:p.r-p.l,height:p.b-p.t},cp);
    const inner=mk('g',{'clip-path':'url(#'+clipId+')'},g);
    xTicksExpr.forEach(function(v){
      mk('line',{x1:p.x(v),x2:p.x(v),y1:p.t,y2:p.b,stroke:'#e9e9e9','stroke-width':2},inner);
      mk('line',{x1:p.x(v+.5),x2:p.x(v+.5),y1:p.t,y2:p.b,stroke:'#efefef','stroke-width':1.2},inner);
      if(v===3){mk('line',{x1:p.x(2.5),x2:p.x(2.5),y1:p.t,y2:p.b,stroke:'#efefef','stroke-width':1.2},inner);}
      const tk=mk('line',{x1:p.x(v),x2:p.x(v),y1:p.b,y2:p.b+3,stroke:'#333','stroke-width':1},g);
      
      
      const lab=txt(String(v),p.x(v)+2,p.tickBase,{size:14.5,fill:'#222',anchor:'middle'},g);
      
      
    });
    const step=p.yTicks[1]-p.yTicks[0];
    p.yTicks.forEach(function(v){
      mk('line',{x1:p.l,x2:p.r,y1:p.y(v),y2:p.y(v),stroke:'#e9e9e9','stroke-width':2},inner);
      mk('line',{x1:p.l,x2:p.r,y1:p.y(v+step/2),y2:p.y(v+step/2),stroke:'#efefef','stroke-width':1.2},inner);
      const tk=mk('line',{x1:p.l-5,x2:p.l,y1:p.y(v),y2:p.y(v),stroke:'#333','stroke-width':1},g);
      
      
      const lab=txt(String(v),p.tickRight,p.y(v)+5.5,{size:14.5,fill:'#222',anchor:'end'},g);
      
      
    });
    p.core.forEach(function(c){
      const d=mk('circle',{cx:p.x(c[0]),cy:p.y(c[1]),r:p.coreR,fill:'#f31c10'},inner);
      
      
    });
    p.pts.forEach(function(c){
      const d=mk('circle',{cx:p.x(c[0]),cy:p.y(c[1]),r:3.9,fill:'#f4281c','fill-opacity':.62,stroke:'#e8352a','stroke-opacity':.55,'stroke-width':.8},inner);
      
      
    });
    const up=p.fx.map(function(v,i){return [p.x(v),p.y(p.fy[i]+p.fs[i])];});
    const dn=p.fx.map(function(v,i){return [p.x(v),p.y(p.fy[i]-p.fs[i])];}).reverse();
    const rb=mk('path',{d:linePath(up.concat(dn))+' Z',fill:'#a9dcea','fill-opacity':.5},inner);
    
    
    const ln=mk('path',{d:linePath(p.fx.map(function(v,i){return [p.x(v),p.y(p.fy[i])];})),fill:'none',stroke:'#1fd03a','stroke-width':1.8},inner);
    
    
    const fr=mk('rect',{x:p.l,y:p.t,width:p.r-p.l,height:p.b-p.t,fill:'none',stroke:'#111','stroke-width':1.6},g);
    
    
    ['Spearman',p.r2,'P < 0.001'].forEach(function(s,i){
      const a=txt(s,p.ar,p.a[i],{size:14.6,fill:'#2222e0',anchor:'end'},g);
      
      
    });
    const x1=txt('The expression of SLC31A1',p.tx,p.t1,{size:16.5,fill:'#111',anchor:'middle',len:217},g);
    
    
    const x2=logLabel(p.tx,p.t2,false,g);
    
    
    const y1=txt('The expression of '+p.gene,p.yt1,p.ytc,{size:16.5,fill:'#111',anchor:'middle',rot:-90},g);
    
    
    const y2=logLabel(p.yt2,p.ytc,true,g);
    
    
  });
})();
</script>
</body>
</html>
